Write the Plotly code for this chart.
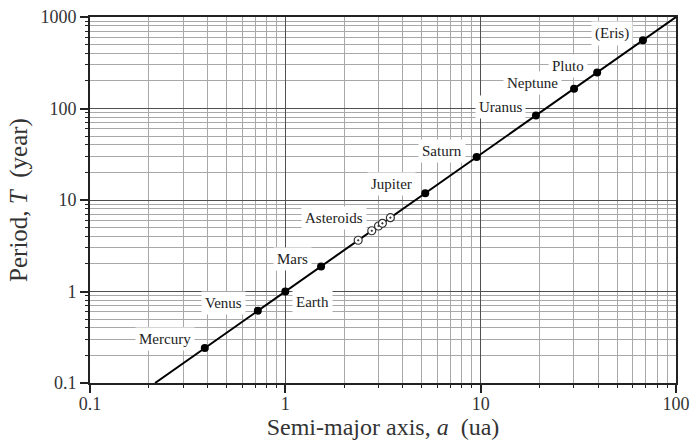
import math
import plotly.graph_objects as go

# Semi-major axis (ua) and orbital period (year) of the planets
planet_names = ["Mercury", "Venus", "Earth", "Mars", "Jupiter", "Saturn",
                "Uranus", "Neptune", "Pluto", "(Eris)"]
planet_a = [0.387, 0.723, 1.0, 1.524, 5.203, 9.537, 19.19, 30.07, 39.48, 67.7]
planet_T = [0.241, 0.615, 1.0, 1.881, 11.86, 29.45, 84.0, 164.8, 248.0, 557.0]

# A few main-belt asteroids
asteroid_a = [2.36, 2.77, 3.00, 3.14, 3.45]
asteroid_T = [3.63, 4.61, 5.20, 5.56, 6.41]

# Kepler's third law line, end points on the plot frame
law_a = [0.2154, 100.0]
law_T = [0.1, 1000.0]

# Label anchors (data coordinates) for the object names
label_names = ["Mercury", "Venus", "Earth", "Mars", "Asteroids", "Jupiter",
               "Saturn", "Uranus", "Neptune", "Pluto", "(Eris)"]
label_a = [0.242, 0.481, 1.374, 1.086, 1.776, 3.51, 6.32, 12.57, 18.4, 28.1, 46.9]
label_T = [0.300, 0.743, 0.762, 2.25, 6.41, 15.1, 34.6, 103.0, 188.0, 294.0, 663.0]

x_ticks = [0.1, 1, 10, 100]
x_ticktext = ["0.1", "1", "10", "100"]
y_ticks = [0.1, 1, 10, 100, 1000]
y_ticktext = ["0.1", "1", "10", "100", "1000"]


def minor_positions(decades):
    """2..9 within each decade starting at the given powers of ten."""
    return [m * d for d in decades for m in range(2, 10)]


FONT = "Liberation Serif, Times New Roman, serif"

fig = go.Figure()

fig.add_trace(go.Scatter(
    x=law_a, y=law_T, mode="lines",
    line=dict(color="black", width=2), hoverinfo="skip", showlegend=False))

fig.add_trace(go.Scatter(
    x=planet_a, y=planet_T, mode="markers", text=planet_names,
    marker=dict(color="black", size=8, line=dict(width=0)),
    showlegend=False))

fig.add_trace(go.Scatter(
    x=asteroid_a, y=asteroid_T, mode="markers",
    marker=dict(symbol="circle-dot", color="white", size=8,
                line=dict(color="#333", width=1.2)),
    showlegend=False))

# annotations on log axes take log10 coordinates
for name, xa, yt in zip(label_names, label_a, label_T):
    fig.add_annotation(
        x=math.log10(xa), y=math.log10(yt), xref="x", yref="y",
        text=name, showarrow=False, bgcolor="white", borderpad=3,
        font=dict(family=FONT, size=15, color="#222"))

grid_major = "#505050"
grid_minor = "#a8a8a8"


def axis_style(minor_vals):
    return dict(
        type="log", automargin=False,
        showline=True, linecolor="#222", linewidth=2, mirror=True,
        showgrid=True, gridcolor=grid_major, gridwidth=1.3,
        ticks="outside", ticklen=8, tickwidth=1.5, tickcolor="#222",
        tickfont=dict(family=FONT, size=18, color="#333"),
        zeroline=False,
        minor=dict(tickmode="array", tickvals=minor_vals,
                   ticks="outside", ticklen=3, tickwidth=1, tickcolor="#222",
                   showgrid=True, gridcolor=grid_minor, gridwidth=1),
    )


fig.update_xaxes(
    **axis_style(minor_positions([0.1, 1, 10])),
    range=[-1, 2], tickmode="array", tickvals=x_ticks, ticktext=x_ticktext,
    ticklabelstandoff=-5,
    title=dict(text="Semi-major axis, <i>a</i>  (ua)",
               font=dict(family=FONT, size=24, color="#333"), standoff=0),
)
fig.update_yaxes(
    **axis_style(minor_positions([0.1, 1, 10, 100])),
    range=[-1, 3], tickmode="array", tickvals=y_ticks, ticktext=y_ticktext,
    title=dict(text="Period, <i>T</i>  (year)",
               font=dict(family=FONT, size=25, color="#333"), standoff=6),
)

fig.update_layout(
    width=690, height=443,
    margin=dict(l=90, r=14, t=17, b=60),
    plot_bgcolor="white", paper_bgcolor="white",
    showlegend=False,
)

fig.write_html("out.html")
